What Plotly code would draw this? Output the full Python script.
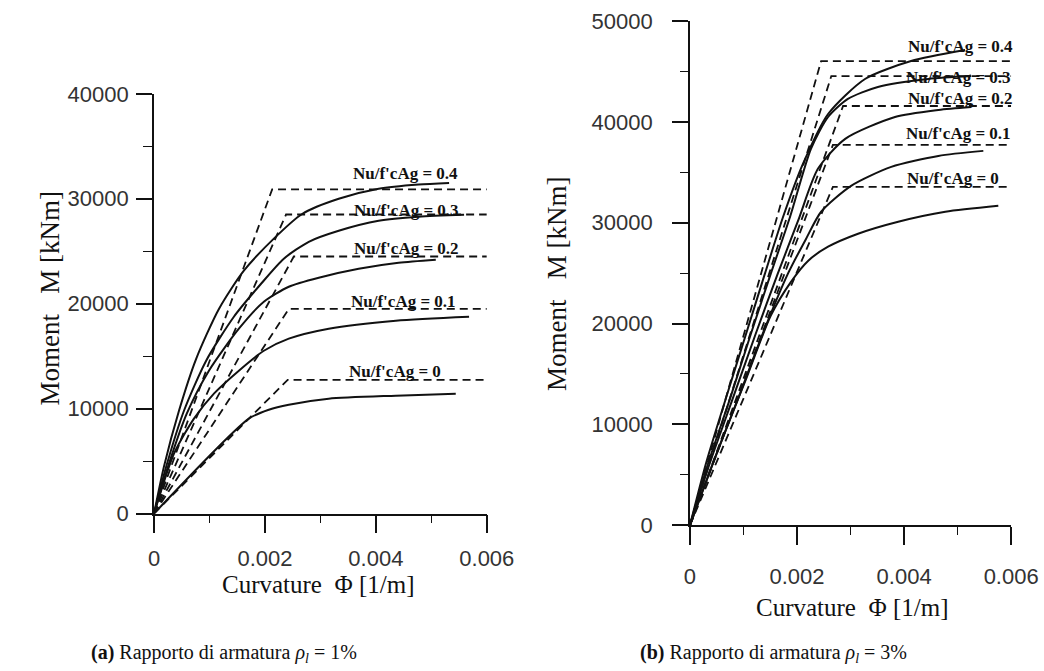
import plotly.graph_objects as go

# Axial load ratios Nu/f'cAg
ratios = ["0.4", "0.3", "0.2", "0.1", "0"]

# ---------------- (a) reinforcement ratio 1% ----------------
# Moment-curvature curves: curvature [1/m], moment [kNm]
a_phi_04 = [0, 0.00018, 0.00045, 0.00076, 0.00117, 0.00162, 0.00216, 0.00267, 0.00333, 0.00405, 0.00477, 0.00532]
a_m_04 = [0, 4500, 9800, 14750, 19500, 23150, 26200, 28550, 30000, 30950, 31350, 31500]
a_phi_03 = [0, 0.00022, 0.00054, 0.00094, 0.00144, 0.00193, 0.00234, 0.00279, 0.00333, 0.00405, 0.00477, 0.00559]
a_m_03 = [0, 4480, 9800, 14570, 18760, 21900, 24290, 25900, 26950, 27900, 28290, 28480]
a_phi_02 = [0, 0.00027, 0.00059, 0.00099, 0.00153, 0.00198, 0.00243, 0.00297, 0.00369, 0.00441, 0.00508]
a_m_02 = [0, 4760, 9520, 13620, 17620, 20190, 21620, 22480, 23330, 23900, 24190]
a_phi_01 = [0, 0.00036, 0.00072, 0.00108, 0.00153, 0.00198, 0.00243, 0.00315, 0.00436, 0.00568]
a_m_01 = [0, 5710, 9050, 11430, 13620, 15520, 16670, 17620, 18380, 18760]
a_phi_00 = [0, 0.00171, 0.00207, 0.00243, 0.00315, 0.00436, 0.00544]
a_m_00 = [0, 9050, 9900, 10380, 10950, 11240, 11430]

# Bilinear idealisation: yield curvature and nominal moment
a_phi_y = [0.00213, 0.00238, 0.00252, 0.00243, 0.00241]
a_m_n = [30900, 28500, 24500, 19500, 12750]
a_phi_end = 0.006

# ---------------- (b) reinforcement ratio 3% ----------------
b_phi_04 = [0, 0.00030, 0.00067, 0.00105, 0.00140, 0.00174, 0.00211, 0.00258, 0.00327, 0.00413, 0.00514]
b_m_04 = [0, 6140, 12570, 19010, 24950, 30590, 35840, 40790, 44260, 46040, 47130]
b_phi_03 = [0, 0.00034, 0.00075, 0.00114, 0.00151, 0.00187, 0.00226, 0.00258, 0.00295, 0.00351, 0.00445, 0.00525]
b_m_03 = [0, 6140, 12570, 19010, 24950, 30590, 37330, 40490, 42280, 43470, 44260, 44550]
b_phi_02 = [0, 0.00037, 0.00080, 0.00123, 0.00164, 0.00202, 0.00239, 0.00290, 0.00383, 0.00464, 0.00525]
b_m_02 = [0, 6140, 12570, 19010, 24950, 30200, 35350, 38320, 40490, 41190, 41480]
b_phi_01 = [0, 0.00043, 0.00090, 0.00136, 0.00183, 0.00217, 0.00245, 0.00301, 0.00376, 0.00464, 0.00548]
b_m_01 = [0, 6140, 12570, 19010, 24950, 28420, 31090, 33660, 35540, 36630, 37130]
b_phi_00 = [0, 0.00052, 0.00103, 0.00151, 0.00189, 0.00221, 0.00258, 0.00314, 0.00389, 0.00477, 0.00576]
b_m_00 = [0, 7430, 14260, 20790, 24160, 26240, 27620, 28910, 30100, 31090, 31680]

b_phi_y = [0.00245, 0.00264, 0.00286, 0.00267, 0.00267]
b_m_n = [46040, 44550, 41580, 37720, 33560]
b_phi_end = 0.006

# Tick values and labels
x_ticks = [0, 0.002, 0.004, 0.006]
x_ticktext = ["0", "0.002", "0.004", "0.006"]
a_y_ticks = [0, 10000, 20000, 30000, 40000]
b_y_ticks = [0, 10000, 20000, 30000, 40000, 50000]

# Label anchor points (curvature, moment)
a_lab_phi = [0.00454, 0.00456, 0.00456, 0.00450, 0.00434]
a_lab_m = [32380, 28860, 25240, 20190, 13520]
b_lab_phi = [0.00505, 0.00501, 0.00505, 0.00501, 0.00492]
b_lab_m = [47520, 44360, 42280, 38810, 34360]

W, H = 1044, 671
INK = "#111111"
SERIF = "Liberation Serif"
SANS = "Liberation Sans"

fig = go.Figure()

a_curves = [(a_phi_04, a_m_04), (a_phi_03, a_m_03), (a_phi_02, a_m_02), (a_phi_01, a_m_01), (a_phi_00, a_m_00)]
b_curves = [(b_phi_04, b_m_04), (b_phi_03, b_m_03), (b_phi_02, b_m_02), (b_phi_01, b_m_01), (b_phi_00, b_m_00)]

solid = dict(color=INK, width=2.0, shape="spline", smoothing=0.7)
dashed = dict(color=INK, width=1.8, dash="8px,5px")

for curves, phi_y, m_n, phi_end, xa, ya in [
    (a_curves, a_phi_y, a_m_n, a_phi_end, "x", "y"),
    (b_curves, b_phi_y, b_m_n, b_phi_end, "x2", "y2"),
]:
    for (phi, m), py, mn in zip(curves, phi_y, m_n):
        fig.add_trace(go.Scatter(x=[0, py, phi_end], y=[0, mn, mn], mode="lines",
                                 line=dashed, xaxis=xa, yaxis=ya, showlegend=False,
                                 hoverinfo="skip"))
        fig.add_trace(go.Scatter(x=phi, y=m, mode="lines", line=solid,
                                 xaxis=xa, yaxis=ya, showlegend=False))

# Axial-load labels
for lab_phi, lab_m, xa, ya in [(a_lab_phi, a_lab_m, "x", "y"), (b_lab_phi, b_lab_m, "x2", "y2")]:
    for r, px, pm in zip(ratios, lab_phi, lab_m):
        fig.add_annotation(x=px, y=pm, xref=xa, yref=ya, text=f"<b>Nu/f'cAg = {r}</b>",
                           showarrow=False, font=dict(family=SERIF, size=17, color=INK),
                           xanchor="center", yanchor="middle")

def px_x(p):
    return p / W

def px_y(p):
    return 1 - p / H

axis_common = dict(
    showline=True, linecolor=INK, linewidth=1.7, mirror=False,
    ticks="outside", tickcolor=INK, tickwidth=1.7,
    showgrid=False, zeroline=False,
    tickfont=dict(family=SANS, size=22, color="#333333"),
)

fig.update_layout(
    width=W, height=H,
    margin=dict(l=0, r=0, t=0, b=0),
    paper_bgcolor="white", plot_bgcolor="white",
    xaxis=dict(axis_common, domain=[px_x(153), px_x(497)], range=[0, 0.006], anchor="y",
               tickvals=x_ticks, ticktext=x_ticktext,
               ticklen=18, ticklabelstandoff=6,
               minor=dict(ticks="outside", dtick=0.001, ticklen=8, tickcolor=INK, tickwidth=1.4)),
    yaxis=dict(axis_common, domain=[px_y(521), px_y(85)], range=[0, 40000], anchor="x",
               tickvals=a_y_ticks, ticktext=[str(v) for v in a_y_ticks],
               ticklen=16, ticklabelstandoff=3,
               minor=dict(ticks="outside", dtick=5000, ticklen=9, tickcolor=INK, tickwidth=1.4)),
    xaxis2=dict(axis_common, domain=[px_x(707), px_x(1039)], range=[0, 0.006], anchor="y2",
                tickvals=x_ticks, ticktext=x_ticktext,
                ticklen=18, ticklabelstandoff=13,
                minor=dict(ticks="outside", dtick=0.001, ticklen=8, tickcolor=INK, tickwidth=1.4)),
    yaxis2=dict(axis_common, domain=[px_y(533), px_y(9.5)], range=[0, 50000], anchor="x2",
                tickvals=b_y_ticks, ticktext=[str(v) for v in b_y_ticks],
                ticklen=16, ticklabelstandoff=15,
                minor=dict(ticks="outside", dtick=5000, ticklen=8, tickcolor=INK, tickwidth=1.4)),
)

# Axis titles and captions
for xc, yc, txt, ang, size in [
    (323, 595, "Curvature  \u03a6 [1/m]", 0, 25),
    (875, 619, "Curvature  \u03a6 [1/m]", 0, 25),
    (45, 298, "Moment   M [kNm]", -90, 27),
    (570, 282, "Moment   M [kNm]", -90, 27),
]:
    fig.add_annotation(x=px_x(xc), y=px_y(yc), xref="paper", yref="paper", text=txt,
                       textangle=ang, showarrow=False,
                       font=dict(family=SERIF, size=size, color=INK),
                       xanchor="center", yanchor="middle")

cap_font = dict(family=SERIF, size=20, color=INK)
for xc, txt in [
    (225, "<b>(a)</b> Rapporto di armatura <i>\u03c1</i><sub><i>l</i></sub> = 1%"),
    (793, "<b>(b)</b> Rapporto di armatura <i>\u03c1</i><sub><i>l</i></sub> = 3%"),
]:
    fig.add_annotation(x=px_x(xc), y=px_y(666), xref="paper", yref="paper", text=txt,
                       showarrow=False, font=cap_font, xanchor="center", yanchor="middle")

fig.write_html("out.html")
